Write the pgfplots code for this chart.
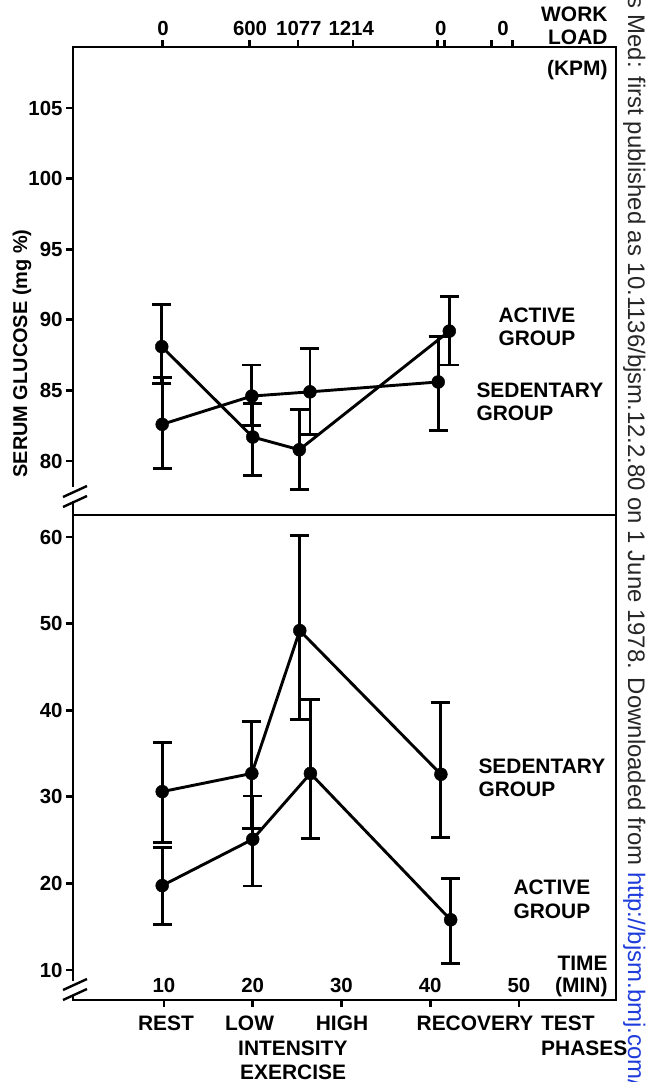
\documentclass[border=0pt]{standalone}
\usepackage{pgfplots}
\pgfplotsset{compat=1.18}
\usepackage{fontspec}
\setmainfont{Liberation Sans}
\definecolor{urlblue}{RGB}{30,60,220}
\newcommand{\lbl}{\fontsize{21}{24}\selectfont\bfseries}
\newcommand{\tkl}{\fontsize{20.5}{22}\selectfont\bfseries}
\begin{document}
\begin{tikzpicture}[x=1bp,y=1bp]
\pgfplotsset{
  myaxis/.style={
    scale only axis, width=543bp,
    xmin=-0.25, xmax=60.93,
    axis line style={line width=2.7bp},
    major tick style={line width=2.7bp, black},
    major tick length=7bp,
    tick align=outside,
    ticklabel style={font=\tkl},
    /pgf/number format/assume math mode=true,
    clip=false,
  },
  series/.style={black, line width=2.9bp, mark=*, mark size=6.5bp,
    mark options={fill=black, line width=0.4bp, solid},
    error bars/y dir=both, error bars/y explicit,
    error bars/error bar style={line width=2.9bp, black},
    error bars/error mark options={rotate=90, line width=2.9bp, mark size=9.5bp, black}},
}
% ---------------- top panel: serum glucose ----------------
\begin{axis}[myaxis, at={(73bp,567bp)}, anchor=south west, height=468bp,
  ymin=76.18, ymax=109.32, ytick={80,85,90,95,100,105}, ytick pos=left,
  xtick pos=right, xtick={9.8,19.6,25.1,31.3,40.8,41.6,46.9,49.3}, xticklabels={},
  ylabel={SERUM GLUCOSE (mg \%)},
  ylabel style={font=\fontsize{20}{22}\selectfont\bfseries, at={(axis description cs:-0.094,0.345)}, anchor=center}]
% active group
\addplot[series] coordinates {
 (9.75,88.1) += (0,3.0) -= (0,2.6)
 (20.0,81.7) += (0,2.4) -= (0,2.75)
 (25.25,80.8) += (0,2.85) -= (0,2.8)
 (42.15,89.2) += (0,2.45) -= (0,2.4)
};
% sedentary group
\addplot[series] coordinates {
 (9.8,82.6) += (0,3.3) -= (0,3.1)
 (19.9,84.6) += (0,2.2) -= (0,2.1)
 (26.45,84.9) += (0,3.1) -= (0,3.0)
 (40.9,85.6) += (0,3.25) -= (0,3.45)
};
\node[anchor=south, font=\tkl, yshift=8bp] at (axis cs:9.9,109.32) {0};
\node[anchor=south, font=\tkl, yshift=8bp] at (axis cs:19.7,109.32) {600};
\node[anchor=south, font=\tkl, yshift=8bp] at (axis cs:25.2,109.32) {1077};
\node[anchor=south, font=\tkl, yshift=8bp] at (axis cs:31.1,109.32) {1214};
\node[anchor=south, font=\tkl, yshift=8bp] at (axis cs:41.2,109.32) {0};
\node[anchor=south, font=\tkl, yshift=8bp] at (axis cs:48.2,109.32) {0};
\end{axis}
% ---------------- bottom panel ----------------
\begin{axis}[myaxis, at={(73bp,82bp)}, anchor=south west, height=485bp,
  ymin=6.54, ymax=62.54, ytick={10,20,30,40,50,60}, ytick pos=left,
  xtick pos=left, xtick={10,20,30,40,50}, xticklabels={}]
% sedentary group
\addplot[series] coordinates {
 (9.8,30.6) += (0,5.7) -= (0,5.9)
 (19.9,32.7) += (0,6.0) -= (0,6.35)
 (25.3,49.2) += (0,11.0) -= (0,10.3)
 (41.2,32.6) += (0,8.3) -= (0,7.3)
};
% active group
\addplot[series] coordinates {
 (9.8,19.75) += (0,4.4) -= (0,4.45)
 (20.0,25.1) += (0,5.0) -= (0,5.4)
 (26.5,32.7) += (0,8.55) -= (0,7.5)
 (42.3,15.8) += (0,4.8) -= (0,5.0)
};
\pgfplotsinvokeforeach{10,20,30,40,50}{
  \node[anchor=south, font=\tkl, yshift=4bp] at (axis cs:#1,6.54) {#1};
}
\end{axis}
% axis breaks
\fill[white] (69,1082-501) rectangle (77,1082-487);
\draw[line width=2.4bp] (63,1082-497) -- (87,1082-486);
\draw[line width=2.4bp] (63,1082-507) -- (87,1082-496);
\fill[white] (69,1082-995) rectangle (77,1082-981);
\draw[line width=2.4bp] (63,1082-990) -- (87,1082-979);
\draw[line width=2.4bp] (63,1082-1000) -- (87,1082-989);
% texts
\node[anchor=east, font=\lbl] at (611,1082-14) {WORK};
\node[anchor=east, font=\lbl] at (611,1082-37) {LOAD};
\node[anchor=east, font=\lbl] at (611,1082-70) {(KPM)};
\node[anchor=west, font=\lbl] at (495,1082-315) {ACTIVE};
\node[anchor=west, font=\lbl] at (495,1082-338) {GROUP};
\node[anchor=west, font=\lbl] at (473,1082-390) {SEDENTARY};
\node[anchor=west, font=\lbl] at (473,1082-413) {GROUP};
\node[anchor=west, font=\lbl] at (475,1082-766) {SEDENTARY};
\node[anchor=west, font=\lbl] at (475,1082-789) {GROUP};
\node[anchor=west, font=\lbl] at (510,1082-887) {ACTIVE};
\node[anchor=west, font=\lbl] at (510,1082-911) {GROUP};
\node[anchor=east, font=\lbl] at (611,1082-963) {TIME};
\node[anchor=east, font=\lbl] at (611,1082-987) {(MIN)};
\node[font=\lbl] at (166,1082-1023) {REST};
\node[anchor=west, font=\lbl, inner sep=0pt] at (225,1082-1023) {LOW};
\node[anchor=west, font=\lbl, inner sep=0pt] at (238,1082-1048) {INTENSITY};
\node[anchor=west, font=\lbl, inner sep=0pt] at (240,1082-1072) {EXERCISE};
\node[font=\lbl] at (342,1082-1023) {HIGH};
\node[font=\lbl] at (475,1082-1023) {RECOVERY};
\node[anchor=west, font=\lbl, inner sep=0pt] at (541,1082-1023) {TEST};
\node[anchor=west, font=\lbl, inner sep=0pt] at (541,1082-1048) {PHASES};
% watermark
\node[rotate=-90, anchor=base west, inner sep=0pt, font=\fontsize{24}{26}\selectfont, text=black!85] at (628,1082+4)
  {s Med: first published as 10.1136/bjsm.12.2.80 on 1 June 1978. Downloaded from \textcolor{urlblue}{http://bjsm.bmj.com/}};
\pgfresetboundingbox
\useasboundingbox (0,0) rectangle (646,1082);
\end{tikzpicture}
\end{document}
